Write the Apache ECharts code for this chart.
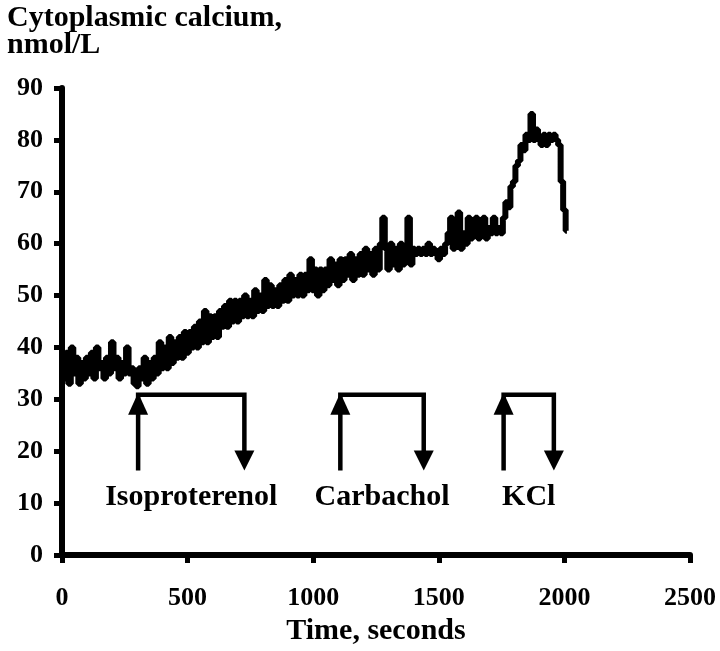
<!DOCTYPE html>
<html>
<head>
<meta charset="utf-8">
<script src="https://cdn.jsdelivr.net/npm/echarts/dist/echarts.min.js"></script>
<style>
  html, body { margin: 0; padding: 0; background: #fff; }
  #chart { width: 720px; height: 651px; }
</style>
</head>
<body>
<div id="chart"></div>
<script>
// calcium trace, one reading every 10 s starting at 0 s
const sampleStep = 10
const calcium = [
  38, 34, 39, 33, 40, 35, 38, 33, 37, 34,
  38, 35, 39, 34, 40, 36, 37, 34, 38, 35,
  41, 36, 38, 34, 37, 35, 40, 35, 36, 33,
  32.5, 36, 34, 38, 33, 37, 34, 38, 35, 41,
  36, 40, 36, 42, 37, 41, 38, 42, 38, 43,
  39, 43, 40, 44, 40, 45, 41, 47, 41, 46,
  42, 46, 42, 47, 44, 48, 44, 49, 45, 49,
  45, 49, 46, 50, 46, 49, 46, 51, 47, 50,
  47, 53, 48, 52, 48, 51, 48, 52, 49, 53,
  49, 54, 50, 53, 50, 54, 50, 54, 51, 57,
  51, 55, 50, 55, 51, 55, 52, 57, 53, 56,
  52, 57, 53, 57, 54, 58, 53, 57, 54, 58,
  54, 59, 55, 58, 54, 59, 55, 60, 65, 59,
  55, 60, 56, 59, 55, 60, 56, 59, 65, 56,
  59, 58, 59, 58, 59, 58, 60, 58, 59, 58,
  57, 59, 58, 60, 62, 65, 59, 61, 66, 59,
  62, 60, 65, 61, 64, 65, 61, 64, 65, 61,
  63, 62, 65, 62, 63, 62, 65, 68, 67, 71,
  72, 75, 76, 79, 78, 81, 80, 85, 80, 82,
  80, 79, 81, 79, 81, 80, 81, 80, 79, 72,
  66.5, 62.5
]

// drug applications: arrow up at start, arrow down at washout (s)
const drugNames = ['Isoproterenol', 'Carbachol', 'KCl']
const drugStart = [303, 1108, 1758]
const drugEnd = [726, 1440, 1958]

const xTicks = [0, 500, 1000, 1500, 2000, 2500]
const yTicks = [0, 10, 20, 30, 40, 50, 60, 70, 80, 90]

const fontFamily = '"Liberation Serif", "Times New Roman", serif'

const traceData = calcium.map((v, i) => [i * sampleStep, v])
const drugData = drugNames.map((name, i) => [drugStart[i], drugEnd[i], name])

const arrowTop = 30.9
const arrowBottom = 16.3
const labelLevel = 11.2

function renderDrug(params, api) {
  const start = api.value(0)
  const end = api.value(1)
  const name = drugNames[params.dataIndex]
  const pStartBottom = api.coord([start, arrowBottom])
  const pStartTop = api.coord([start, arrowTop])
  const pEndTop = api.coord([end, arrowTop])
  const pEndBottom = api.coord([end, arrowBottom])
  const pLabel = api.coord([(start + end) / 2, labelLevel])
  const head = 20
  const half = 10
  const lineStyle = { stroke: '#000', lineWidth: 4.5, fill: null, lineJoin: 'miter' }
  return {
    type: 'group',
    children: [
      {
        type: 'polyline',
        shape: {
          points: [
            pStartBottom,
            [pStartTop[0], pStartTop[1] + head - 2],
            [pStartTop[0], pStartTop[1]],
            pEndTop,
            [pEndBottom[0], pEndBottom[1] - head + 2]
          ]
        },
        style: lineStyle
      },
      {
        type: 'polygon',
        shape: {
          points: [
            [pStartTop[0], pStartTop[1] - 2],
            [pStartTop[0] - half, pStartTop[1] + head],
            [pStartTop[0] + half, pStartTop[1] + head]
          ]
        },
        style: { fill: '#000' }
      },
      {
        type: 'polygon',
        shape: {
          points: [
            [pEndBottom[0], pEndBottom[1]],
            [pEndBottom[0] - half, pEndBottom[1] - head],
            [pEndBottom[0] + half, pEndBottom[1] - head]
          ]
        },
        style: { fill: '#000' }
      },
      {
        type: 'text',
        x: pLabel[0],
        y: pLabel[1],
        style: {
          text: name,
          fill: '#000',
          font: 'bold 30px ' + fontFamily,
          align: 'center',
          verticalAlign: 'middle'
        }
      }
    ]
  }
}

const chart = echarts.init(document.getElementById('chart'))
chart.setOption({
  animation: false,
  backgroundColor: '#fff',
  title: {
    text: 'Cytoplasmic calcium,\nnmol/L',
    left: 2,
    top: 0,
    textStyle: {
      fontFamily: fontFamily,
      fontWeight: 'bold',
      fontSize: 30,
      lineHeight: 27,
      color: '#000'
    }
  },
  grid: {
    left: 62,
    right: 30,
    top: 88,
    bottom: 93,
    containLabel: false
  },
  xAxis: {
    type: 'value',
    min: xTicks[0],
    max: xTicks[xTicks.length - 1],
    interval: 500,
    name: 'Time, seconds',
    nameLocation: 'middle',
    nameGap: 61,
    nameTextStyle: {
      fontFamily: fontFamily,
      fontWeight: 'bold',
      fontSize: 30,
      color: '#000'
    },
    axisLine: { lineStyle: { color: '#000', width: 6 } },
    axisTick: { show: true, length: 8, lineStyle: { color: '#000', width: 5 } },
    axisLabel: {
      margin: 30,
      fontFamily: fontFamily,
      fontWeight: 'bold',
      fontSize: 26,
      color: '#000',
      formatter: v => String(v)
    },
    splitLine: { show: false }
  },
  yAxis: {
    type: 'value',
    min: yTicks[0],
    max: yTicks[yTicks.length - 1],
    interval: 10,
    axisLine: { show: true, lineStyle: { color: '#000', width: 6 } },
    axisTick: { show: true, length: 8, lineStyle: { color: '#000', width: 5 } },
    axisLabel: {
      margin: 19,
      fontFamily: fontFamily,
      fontWeight: 'bold',
      fontSize: 26,
      color: '#000',
      formatter: v => String(v)
    },
    splitLine: { show: false }
  },
  series: [
    {
      name: 'Calcium',
      type: 'line',
      data: traceData,
      step: 'middle',
      showSymbol: false,
      lineStyle: { color: '#000', width: 6 },
      z: 3
    },
    {
      name: 'Drugs',
      type: 'custom',
      data: drugData,
      renderItem: renderDrug,
      encode: { x: [0, 1] },
      z: 4
    }
  ]
})
</script>
</body>
</html>
